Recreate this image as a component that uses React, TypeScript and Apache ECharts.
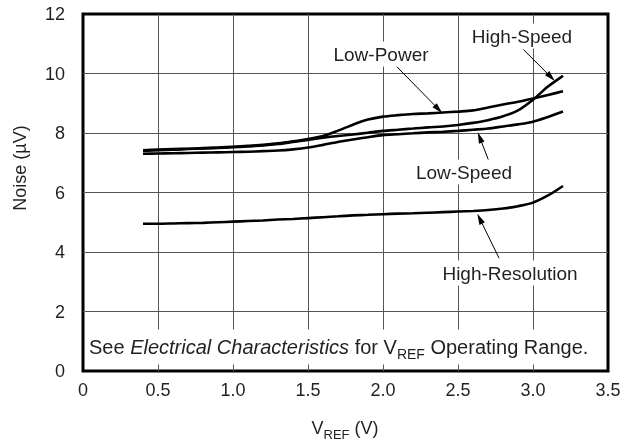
import React, { useEffect, useRef } from "react";
import * as echarts from "echarts";

// ---- data ----
const vref = [0.4, 0.5, 0.6, 0.7, 0.8, 0.9, 1.0, 1.1, 1.2, 1.3, 1.4, 1.5, 1.6, 1.7, 1.8, 1.9, 2.0, 2.1, 2.2, 2.3, 2.4, 2.5, 2.6, 2.7, 2.8, 2.9, 3.0, 3.1, 3.2];
const lowPower = [7.42, 7.44, 7.46, 7.47, 7.49, 7.51, 7.54, 7.57, 7.6, 7.65, 7.72, 7.8, 7.9, 8.08, 8.28, 8.45, 8.55, 8.6, 8.64, 8.66, 8.69, 8.72, 8.76, 8.86, 8.96, 9.05, 9.16, 9.28, 9.4];
const highSpeed = [7.4, 7.42, 7.44, 7.46, 7.48, 7.5, 7.52, 7.55, 7.58, 7.63, 7.7, 7.77, 7.84, 7.9, 7.95, 8.01, 8.07, 8.11, 8.15, 8.19, 8.22, 8.27, 8.34, 8.43, 8.56, 8.76, 9.12, 9.56, 9.92];
const lowSpeed = [7.3, 7.31, 7.32, 7.33, 7.34, 7.35, 7.36, 7.37, 7.39, 7.41, 7.45, 7.51, 7.6, 7.7, 7.78, 7.86, 7.93, 7.96, 7.99, 8.02, 8.04, 8.07, 8.11, 8.15, 8.22, 8.29, 8.38, 8.54, 8.72];
const highResolution = [4.95, 4.95, 4.96, 4.97, 4.98, 5.0, 5.02, 5.04, 5.06, 5.09, 5.11, 5.14, 5.17, 5.2, 5.23, 5.25, 5.27, 5.29, 5.3, 5.32, 5.34, 5.36, 5.38, 5.41, 5.46, 5.54, 5.66, 5.9, 6.22];
const xTickLabels = ["0", "0.5", "1.0", "1.5", "2.0", "2.5", "3.0", "3.5"];
const yTickLabels = ["0", "2", "4", "6", "8", "10", "12"];
const seriesNames = ["Low-Power", "High-Speed", "Low-Speed", "High-Resolution"];

const FONT = '"Liberation Sans", Arial, Helvetica, sans-serif';
const INK = "#231f20";

export default function App() {
  const ref = useRef<HTMLDivElement>(null);
  useEffect(() => {
    const chart = echarts.init(ref.current!, null, { renderer: "svg" });
    const pts = (ys: number[]) => vref.map((x, i) => [x, ys[i]]);
    const arrow = (from: number[], to: number[]) => ({
      silent: true,
      symbol: ["none", "triangle"],
      symbolSize: [0, 10],
      label: { show: false },
      lineStyle: { color: "#000", width: 1, type: "solid" },
      emphasis: { disabled: true },
      data: [[{ coord: from, symbol: "none" }, { coord: to, symbol: "triangle", symbolSize: [6, 11] }]],
    });
    const lineSeries = (name: string, ys: number[], ml: any) => ({
      type: "line",
      name,
      data: pts(ys),
      showSymbol: false,
      smooth: 0.3,
      lineStyle: { color: "#000", width: 2.6 },
      emphasis: { disabled: true },
      markLine: ml,
      z: 3,
    });
    const annoText = (text: string, x: number, y: number) => ({
      type: "text",
      x,
      y,
      z: 10,
      style: {
        text,
        fill: INK,
        font: `19px ${FONT}`,
        align: "center",
        verticalAlign: "middle",
        backgroundColor: "#fff",
        padding: [3, 3],
      },
    });
    chart.setOption({
      animation: false,
      grid: {
        left: 83,
        right: 24,
        top: 14,
        bottom: 72,
        show: true,
        borderColor: "#000",
        borderWidth: 3,
        backgroundColor: "transparent",
      },
      xAxis: {
        type: "value",
        min: 0,
        max: 3.5,
        interval: 0.5,
        axisLine: { show: false },
        axisTick: { show: false },
        splitLine: { show: true, showMinLine: false, showMaxLine: false, lineStyle: { color: "#555", width: 1 } },
        axisLabel: {
          color: INK,
          fontSize: 18,
          fontFamily: FONT,
          margin: 10,
          formatter: (v: number) => xTickLabels[Math.round(v / 0.5)] ?? "",
        },
      },
      yAxis: {
        type: "value",
        min: 0,
        max: 12,
        interval: 2,
        axisLine: { show: false },
        axisTick: { show: false },
        splitLine: { show: true, showMinLine: false, showMaxLine: false, lineStyle: { color: "#555", width: 1 } },
        axisLabel: {
          color: INK,
          fontSize: 18,
          fontFamily: FONT,
          margin: 18,
          formatter: (v: number) => yTickLabels[Math.round(v / 2)] ?? "",
        },
      },
      series: [
        lineSeries(seriesNames[0], lowPower, arrow([2.09, 10.24], [2.37, 8.8])),
        lineSeries(seriesNames[1], highSpeed, arrow([2.935, 10.81], [3.12, 9.88])),
        lineSeries(seriesNames[2], lowSpeed, arrow([2.71, 7.0], [2.645, 7.85])),
        lineSeries(seriesNames[3], highResolution, arrow([2.774, 3.79], [2.645, 5.12])),
      ],
      graphic: [
        annoText(seriesNames[0], 381, 54),
        annoText(seriesNames[1], 522, 36),
        annoText(seriesNames[2], 464, 172),
        annoText(seriesNames[3], 510, 273),
        {
          type: "text",
          x: 86,
          y: 347,
          z: 10,
          style: {
            text: "See {i|Electrical Characteristics} for V{s|REF} Operating Range.",
            fill: INK,
            font: `20px ${FONT}`,
            align: "left",
            verticalAlign: "middle",
            backgroundColor: "#fff",
            padding: [4, 3],
            rich: {
              i: { fontStyle: "italic", fontSize: 20, fontFamily: FONT, fill: INK },
              s: { fontSize: 14, fontFamily: FONT, fill: INK, verticalAlign: "bottom", lineHeight: 27 },
            },
          },
        },
        {
          type: "text",
          x: 345,
          y: 428,
          z: 10,
          style: {
            text: "V{s|REF} (V)",
            fill: INK,
            font: `18px ${FONT}`,
            align: "center",
            verticalAlign: "middle",
            rich: {
              s: { fontSize: 13, fontFamily: FONT, fill: INK, verticalAlign: "bottom", lineHeight: 26 },
            },
          },
        },
        {
          type: "text",
          x: 20,
          y: 168,
          rotation: Math.PI / 2,
          z: 10,
          style: {
            text: "Noise (\u00b5V)",
            fill: INK,
            font: `18px ${FONT}`,
            align: "center",
            verticalAlign: "middle",
          },
        },
      ],
    });
    return () => chart.dispose();
  }, []);
  return <div ref={ref} style={{ position: "fixed", left: 0, top: 0, width: 632, height: 443 }} />;
}
